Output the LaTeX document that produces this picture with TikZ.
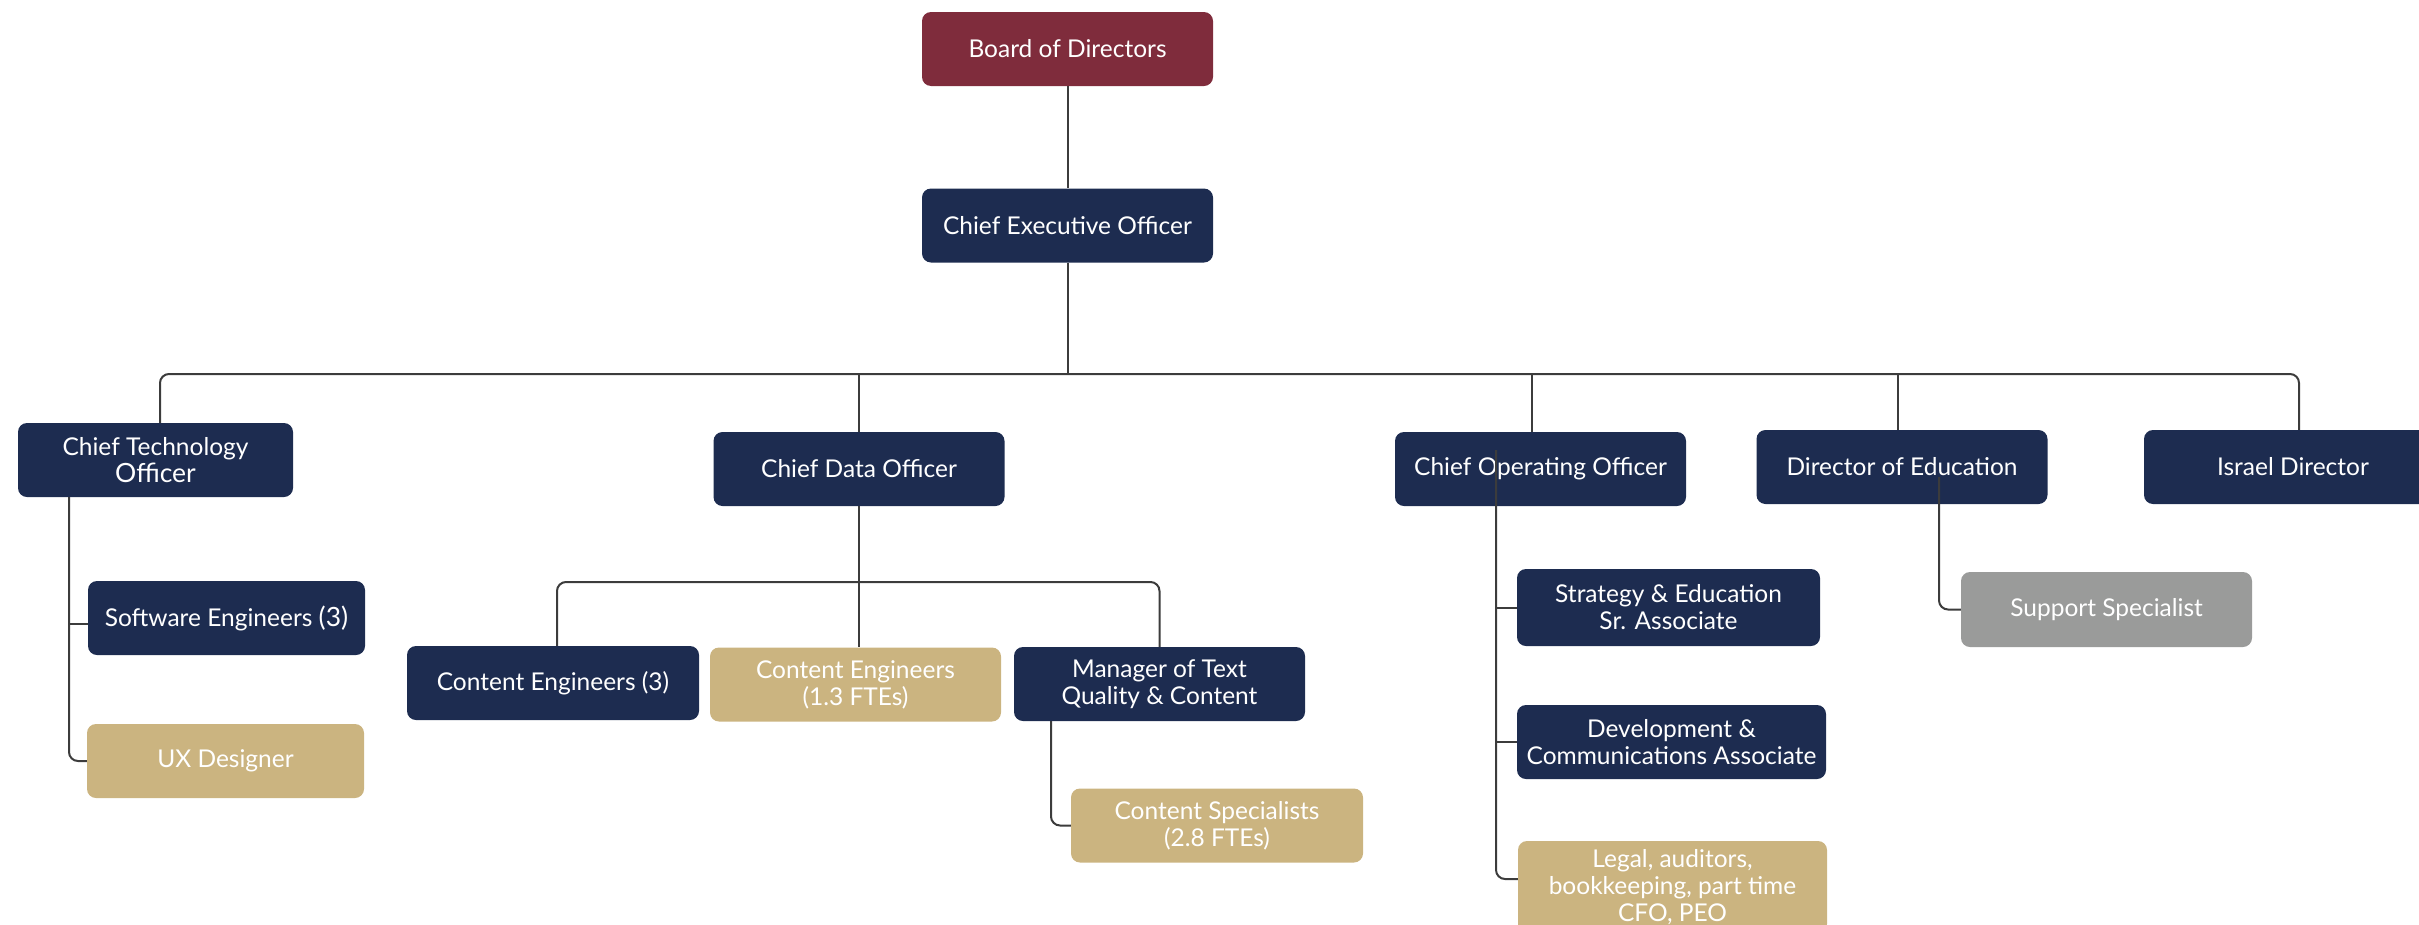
\documentclass[tikz,border=0pt]{standalone}
\usepackage{fontspec}
\setmainfont{Lato}
\usetikzlibrary{positioning}
\definecolor{OrgNavy}{RGB}{29,44,80}
\definecolor{OrgMaroon}{RGB}{127,44,60}
\definecolor{OrgTan}{RGB}{203,180,128}
\definecolor{OrgGray}{RGB}{154,155,154}
\definecolor{OrgLine}{RGB}{60,60,60}

\begin{document}
\begin{tikzpicture}[x=1pt, y=-1pt,
  box/.style={rectangle, rounded corners=9pt, minimum width=291pt, minimum height=74pt,
    inner sep=0pt, align=center, text=white, font=\fontsize{24.5}{27}\selectfont},
  navy/.style={box, fill=OrgNavy},
  tan/.style={box, fill=OrgTan},
  grey/.style={box, fill=OrgGray},
  link/.style={OrgLine, line width=2pt, rounded corners=9pt}]
  \useasboundingbox (0,0) rectangle (2419,924);

  % Top of the chart
  \node[box, fill=OrgMaroon] (board) at (1067.5,49) {Board of Directors};
  \node[navy] (ceo) at (1067.5,225.5) {Chief Executive Officer};

  % Direct reports
  \node[navy, minimum width=275pt] (cto) at (155.5,460) {Chief Technology\\{\fontsize{26.5}{28}\selectfont Officer}};
  \node[navy] (cdo) at (859,469) {Chief Data Officer};
  \node[navy] (coo) at (1540.5,469) {Chief Operating Officer};
  \node[navy] (doe) at (1902,467) {Director of Education};
  \node[navy, minimum width=298pt] (israel) at (2293,467) {Israel Director};

  % CTO team
  \node[navy, minimum width=277pt] (swe) at (226.5,618) {Software Engineers {\fontsize{26.5}{28}\selectfont(3)}};
  \node[tan, minimum width=277pt] (ux) at (225.5,761) {UX Designer};

  % CDO team
  \node[navy, minimum width=292pt] (ce3) at (553,683) {Content Engineers (3)};
  \node[tan] (ce13) at (855.5,684.5) {Content Engineers\\(1.3 FTEs)};
  \node[navy] (mgr) at (1159.5,684) {Manager of Text\\Quality \& Content};
  \node[tan, minimum width=292pt] (cspec) at (1217,825.5) {Content Specialists\\(2.8 FTEs)};

  % COO team
  \node[navy, minimum width=303pt, minimum height=77pt] (strat) at (1668.5,607.5) {Strategy \& Education\\Sr. Associate};
  \node[navy, minimum width=309pt] (devc) at (1671.5,742) {Development \&\\Communications Associate};
  \node[tan, minimum width=309pt, minimum height=92pt] (legal) at (1672.5,887) {Legal, auditors,\\bookkeeping, part time\\CFO, PEO};

  % Director of Education team
  \node[grey, minimum height=75pt] (support) at (2106.5,609.5) {Support Specialist};

  % Connectors
  \coordinate (bus) at (1067.5,374);
  \coordinate (cooTop) at ([xshift=-8.5pt]coo.north);
  \coordinate (doeTop) at ([xshift=-4pt]doe.north);
  \draw[link] (board) -- (ceo);
  \draw[link] (ceo.south) -- (bus);
  \draw[link] ([xshift=4.5pt]cto.north) |- (bus) -| ([xshift=6pt]israel.north);
  \draw[link] (cdo.north) -- (cdo.north |- bus);
  \draw[link] (cooTop) -- (cooTop |- bus);
  \draw[link] (doeTop) -- (doeTop |- bus);

  % CTO branch
  \coordinate (ctoIn) at ([xshift=-86.5pt]cto.south);
  \coordinate (sweIn) at ([yshift=-6pt]swe.west);
  \draw[link] (ctoIn) |- (ux.west);
  \draw[link] (sweIn) -- (sweIn -| ctoIn);

  % CDO branch
  \coordinate (cdoBus) at (858,582);
  \draw[link] (cdo.south) -- (cdo.south |- ce13.north);
  \draw[link] ([xshift=4pt]ce3.north) |- (cdoBus) -| (mgr.north);
  \draw[link] ([xshift=-108.5pt]mgr.south) |- (cspec.west);

  % COO branch
  \coordinate (cooIn) at ([xshift=-44.5pt, yshift=19pt]coo.center);
  \coordinate (legalIn) at ([yshift=8pt]legal.west);
  \draw[link] (cooIn) |- (legalIn);
  \draw[link] (strat.west) -- (strat.west -| cooIn);
  \draw[link] (devc.west) -- (devc.west -| cooIn);

  % Director of Education branch
  \coordinate (doeIn) at ([xshift=37pt, yshift=-10pt]doe.center);
  \draw[link] (doeIn) |- (support.west);
\end{tikzpicture}
\end{document}
